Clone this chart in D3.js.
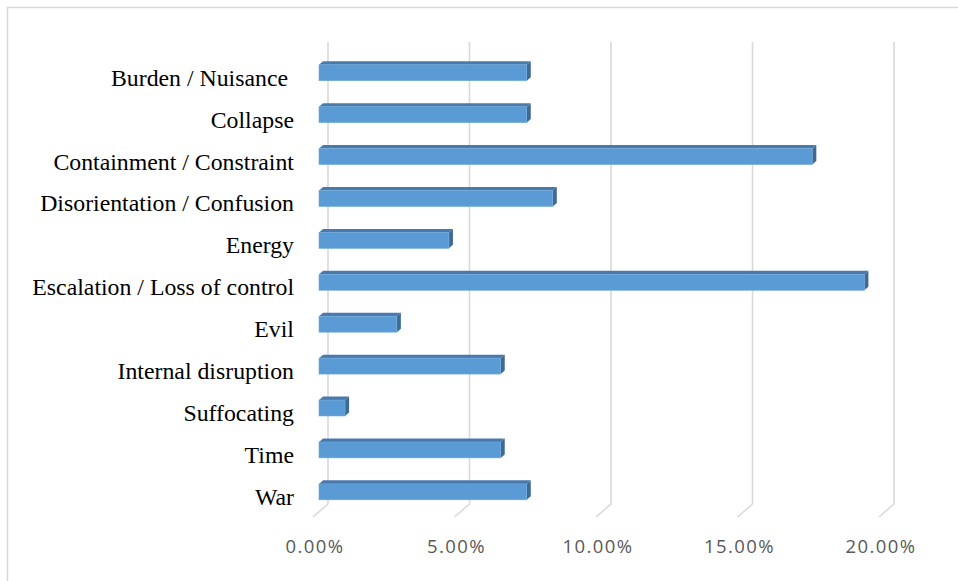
<!DOCTYPE html>
<html>
<head>
<meta charset="utf-8">
<script src="https://cdn.jsdelivr.net/npm/d3@7"></script>
<style>
  html, body { margin: 0; padding: 0; background: #fff; }
  svg { display: block; }
  .cat { font-family: 'Liberation Serif', 'Times New Roman', serif; font-size: 23.8px; fill: #000; white-space: pre; }
  .tick-label { font-family: 'Open Sans', sans-serif; font-size: 18.5px; fill: #595959; letter-spacing: 1.4px; }
</style>
</head>
<body>
<svg id="chart" width="958" height="581"></svg>
<script>
const categories = [
  'Burden / Nuisance ', 'Collapse', 'Containment / Constraint',
  'Disorientation / Confusion', 'Energy', 'Escalation / Loss of control',
  'Evil', 'Internal disruption', 'Suffocating', 'Time', 'War'
];
const values = [0.0734, 0.0734, 0.1743, 0.0826, 0.0459, 0.1927, 0.0275, 0.0642, 0.0092, 0.0642, 0.0734];
const ticks = [0, 0.05, 0.10, 0.15, 0.20];

const svg = d3.select('#chart');

// chart area border (runs off the right and bottom edges)
svg.append('rect')
  .attr('x', 7.5).attr('y', 7.5)
  .attr('width', 980).attr('height', 600)
  .attr('fill', 'none')
  .attr('stroke', '#d9d9d9')
  .attr('stroke-width', 1.5);

// back wall scale, and the depth direction of the 3d floor
const x = d3.scaleLinear().domain([0, 0.2]).range([328, 894]);
const y = d3.scaleBand().domain(categories).range([44, 505])
  .paddingInner(0.62).paddingOuter(0.31);
const wallTop = 42, floorY = 504;
const depth = [-15, 13];
const off = f => [depth[0] * f, depth[1] * f];

// gridlines: up the back wall, then forward across the floor
const grid = d3.line();
svg.append('g').selectAll('path')
  .data(ticks)
  .join('path')
  .attr('d', t => grid([[x(t), wallTop], [x(t), floorY], [x(t) + depth[0], floorY + depth[1]]]))
  .attr('fill', 'none')
  .attr('stroke', '#d9d9d9')
  .attr('stroke-width', 1.6);

svg.append('g').selectAll('text')
  .data(ticks)
  .join('text')
  .attr('class', 'tick-label')
  .attr('x', t => x(t) + depth[0] + 2)
  .attr('y', 553)
  .attr('text-anchor', 'middle')
  .text(d3.format('.2%'));

// bars sit part way into the depth
const front = off(0.6), back = off(0.33);
const bars = svg.append('g').selectAll('g')
  .data(categories.map((c, i) => ({ c, v: values[i] })))
  .join('g');

const poly = pts => 'M' + pts.map(p => p.join(',')).join('L') + 'Z';

bars.each(function(d) {
  const g = d3.select(this);
  const x0f = x(0) + front[0], x1f = x(d.v) + front[0];
  const x0b = x(0) + back[0], x1b = x(d.v) + back[0];
  const yt = y(d.c) + front[1], yb = yt + y.bandwidth();
  const ytb = y(d.c) + back[1], ybb = ytb + y.bandwidth();
  // top face
  g.append('path')
    .attr('d', poly([[x0f, yt], [x0b, ytb], [x1b, ytb], [x1f, yt]]))
    .attr('fill', '#4a7aab');
  // side face
  g.append('path')
    .attr('d', poly([[x1f, yt], [x1b, ytb], [x1b, ybb], [x1f, yb]]))
    .attr('fill', '#3e6a94');
  // front face
  g.append('rect')
    .attr('x', x0f).attr('y', yt)
    .attr('width', x1f - x0f).attr('height', yb - yt)
    .attr('fill', '#5b9bd5')
    .attr('stroke', '#6ea8dc')
    .attr('stroke-width', 0.6);
});

svg.append('g').selectAll('text')
  .data(categories)
  .join('text')
  .attr('class', 'cat')
  .attr('x', 294)
  .attr('y', c => y(c) + front[1] + y.bandwidth() / 2 + 13)
  .attr('text-anchor', 'end')
  .text(c => c);
</script>
</body>
</html>
